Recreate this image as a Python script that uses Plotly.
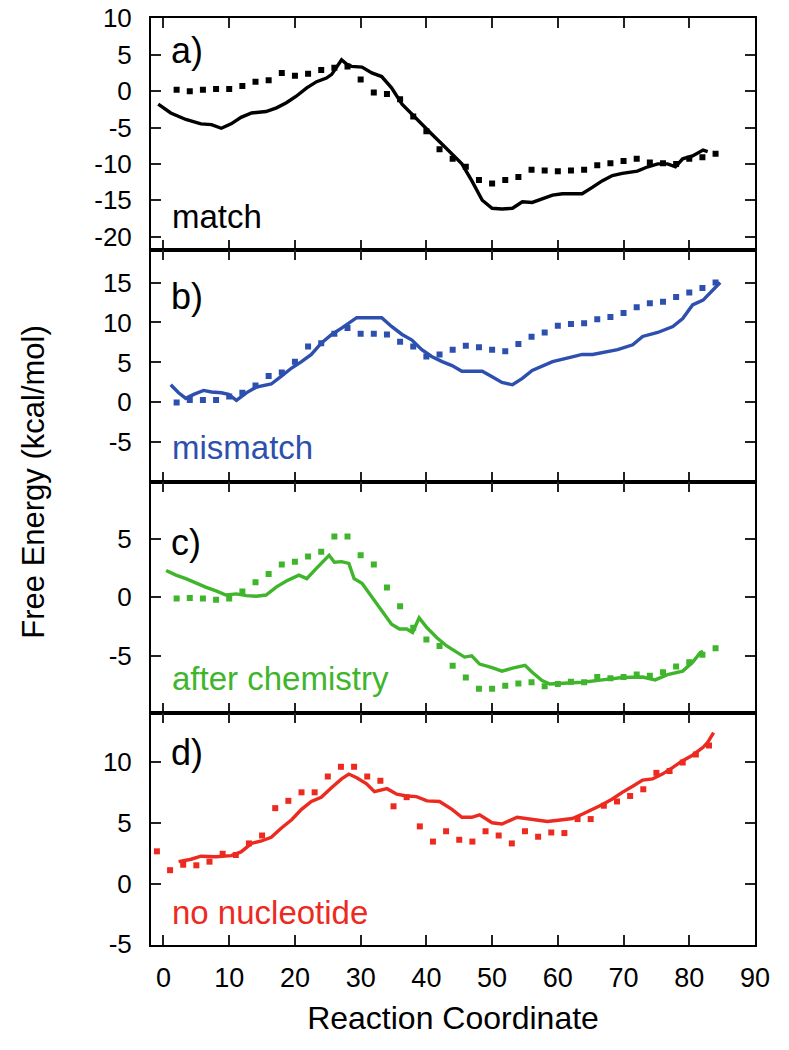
import plotly.graph_objects as go
from plotly.subplots import make_subplots

# ---------------- data ----------------
# panel a: match
a_line_x = [-0.8, 1.1, 3.4, 5.7, 7.3, 8.8, 10.3, 11.8, 13.4, 15.6, 17.2, 18.7, 20.2, 21.8, 23.3, 24.8,
            25.6, 26.3, 27.1, 27.9, 28.6, 30.2, 31.7, 33.2, 34.7, 36.3, 37.8, 39.3, 40.8, 42.4, 43.9,
            45.4, 46.9, 48.5, 50.0, 51.5, 53.1, 54.6, 56.1, 57.6, 59.2, 60.7, 63.7, 65.3, 66.8, 68.3,
            69.8, 72.1, 73.7, 75.2, 76.7, 77.9, 79.0, 80.5, 82.1, 82.8]
a_line_y = [-1.8, -3.0, -3.9, -4.5, -4.6, -5.1, -4.5, -3.6, -3.0, -2.8, -2.3, -1.6, -0.7, 0.45, 1.3, 1.8,
            2.3, 3.2, 4.3, 3.7, 3.4, 3.3, 2.5, 2.0, 0.45, -1.8, -3.2, -4.5, -5.9, -7.3, -8.6,
            -10.0, -12.3, -15.0, -16.1, -16.2, -16.1, -15.2, -15.3, -14.8, -14.3, -14.1, -14.1, -13.2, -12.3, -11.6,
            -11.3, -11.0, -10.4, -10.0, -10.0, -10.4, -9.3, -8.9, -8.1, -8.3]
a_dot_x = [2, 4, 6, 8, 10, 12, 14, 16, 18, 20, 22, 24, 26, 28, 30, 32, 34, 36, 38, 40, 42, 44, 46, 48,
           50, 52, 54, 56, 58, 60, 62, 64, 66, 68, 70, 72, 74, 76, 78, 80, 82, 84]
a_dot_y = [0.2, 0.0, 0.2, 0.3, 0.3, 0.7, 1.3, 1.5, 2.5, 2.1, 2.4, 2.9, 3.2, 3.4, 1.6, -0.2, -0.4, -1.1,
           -3.5, -5.5, -8.0, -9.3, -10.4, -12.2, -12.7, -12.2, -11.8, -10.8, -10.9, -11.0, -10.9, -10.8,
           -10.2, -9.9, -9.6, -9.3, -9.8, -9.9, -10.0, -9.3, -9.1, -8.6]

# panel b: mismatch
b_line_x = [1.1, 2.3, 3.4, 4.6, 6.1, 7.3, 8.8, 9.9, 11.1, 12.6, 14.1, 16.4, 17.9, 19.5, 21.0, 22.5, 24.0,
            25.6, 27.1, 28.6, 29.4, 33.2, 34.7, 36.3, 37.8, 39.3, 40.8, 42.4, 43.9, 45.4, 48.5, 50.0,
            51.5, 53.1, 54.6, 56.1, 57.6, 59.2, 62.2, 63.7, 65.3, 66.8, 69.1, 71.4, 72.9, 75.2, 77.5,
            79.0, 80.5, 82.1, 83.6, 84.7]
b_line_y = [2.2, 1.2, 0.5, 1.0, 1.5, 1.3, 1.2, 1.0, 0.25, 1.2, 1.9, 2.3, 3.25, 4.3, 5.1, 6.0, 7.4,
            8.5, 9.3, 10.1, 10.6, 10.6, 9.5, 8.5, 7.8, 6.6, 5.75, 5.1, 4.6, 3.9, 3.9, 3.2,
            2.5, 2.2, 3.0, 4.0, 4.5, 5.1, 5.7, 6.0, 6.0, 6.25, 6.6, 7.2, 8.25, 8.75, 9.5,
            10.5, 12.2, 12.8, 14.1, 15.0]
b_dot_x = [2, 4, 6, 8, 10, 12, 14, 16, 18, 20, 22, 24, 26, 28, 30, 32, 34, 36, 38, 40, 42, 44, 46, 48,
           50, 52, 54, 56, 58, 60, 62, 64, 66, 68, 70, 72, 74, 76, 78, 80, 82, 84]
b_dot_y = [0.0, 0.3, 0.3, 0.3, 0.75, 1.2, 2.1, 3.3, 3.75, 5.1, 7.0, 7.4, 8.6, 9.3, 8.6, 8.6, 8.5, 7.6,
           7.0, 5.75, 6.0, 6.6, 7.1, 6.9, 6.6, 6.4, 7.3, 8.2, 8.75, 9.6, 9.8, 9.9, 10.4, 10.7, 11.2,
           11.9, 12.4, 12.6, 13.2, 13.75, 14.3, 15.0]

# panel c: after chemistry
c_line_x = [0.4, 1.9, 3.4, 5.0, 6.5, 8.0, 9.5, 11.1, 12.6, 14.1, 15.6, 17.2, 18.7, 20.6, 21.8, 23.3,
            24.4, 25.2, 26.0, 27.1, 28.2, 29.0, 30.2, 31.7, 33.2, 34.7, 35.9, 37.0, 37.9, 38.9, 40.1,
            41.6, 43.1, 44.7, 45.8, 46.9, 48.1, 50.0, 51.5, 53.1, 55.0, 56.1, 57.6, 58.8, 60.7, 63.7,
            66.8, 69.8, 72.9, 74.8, 76.7, 79.0, 80.5, 81.7, 82.1]
c_line_y = [2.3, 1.9, 1.6, 1.2, 0.85, 0.55, 0.2, 0.3, 0.15, 0.1, 0.2, 0.9, 1.4, 1.9, 1.6, 2.5,
            3.1, 3.6, 3.0, 3.05, 2.9, 1.6, 1.2, 0.0, -1.2, -2.3, -2.7, -2.7, -3.0, -1.75, -2.6,
            -3.45, -4.15, -4.7, -5.1, -5.0, -5.7, -6.0, -6.3, -6.05, -5.8, -6.4, -7.1, -7.4, -7.35, -7.25,
            -7.05, -6.85, -6.8, -7.05, -6.6, -6.3, -5.55, -4.7, -4.6]
c_dot_x = [2, 4, 6, 8, 10, 12, 14, 16, 18, 20, 22, 24, 26, 28, 30, 32, 34, 36, 38, 40, 42, 44, 46, 48,
           50, 52, 54, 56, 58, 60, 62, 64, 66, 68, 70, 72, 74, 76, 78, 80, 82, 84]
c_dot_y = [-0.1, -0.05, -0.1, -0.2, -0.1, 0.5, 1.3, 2.0, 2.8, 3.05, 3.5, 3.9, 5.2, 5.2, 3.6, 2.8, 0.85,
           -0.75, -2.6, -3.6, -4.15, -5.85, -6.85, -7.8, -7.8, -7.55, -7.35, -7.25, -7.6, -7.4, -7.2,
           -7.25, -6.8, -6.9, -6.8, -6.6, -6.7, -6.4, -5.9, -5.55, -4.9, -4.35]

# panel d: no nucleotide
d_line_x = [2.3, 4.2, 5.7, 8.0, 10.3, 11.8, 13.4, 14.9, 16.4, 17.9, 19.5, 21.0, 22.5, 24.0, 25.6, 27.1,
            28.2, 29.4, 30.9, 32.1, 34.0, 35.5, 37.0, 38.5, 40.1, 42.0, 43.9, 45.4, 46.9, 48.1, 50.0,
            51.5, 53.8, 56.1, 58.4, 60.7, 62.2, 63.7, 65.3, 66.8, 68.3, 69.8, 71.4, 72.9, 74.4, 75.9,
            77.5, 79.0, 80.5, 82.1, 82.8, 83.7]
d_line_y = [1.8, 2.0, 2.25, 2.2, 2.3, 2.6, 3.3, 3.5, 3.8, 4.55, 5.25, 6.1, 6.75, 7.1, 7.9, 8.6,
            9.0, 8.7, 8.2, 7.55, 7.8, 7.35, 7.2, 7.15, 6.8, 6.75, 6.1, 5.45, 5.45, 5.65, 5.0,
            4.9, 5.45, 5.3, 5.1, 5.25, 5.35, 5.7, 6.1, 6.5, 6.95, 7.5, 8.0, 8.5, 8.6, 9.0,
            9.55, 10.1, 10.55, 11.2, 11.6, 12.4]
d_dot_x = [-1, 1, 3, 5, 7, 9, 11, 13, 15, 17, 19, 21, 23, 25, 27, 29, 31, 33, 35, 37, 39, 41, 43, 45,
           47, 49, 51, 53, 55, 57, 59, 61, 63, 65, 67, 69, 71, 73, 75, 77, 79, 81, 83]
d_dot_y = [2.65, 1.1, 1.55, 1.5, 1.8, 2.45, 2.35, 3.3, 3.95, 6.2, 6.8, 7.5, 7.5, 8.8, 9.6, 9.6, 8.8,
           8.45, 6.35, 7.1, 4.7, 3.45, 4.3, 3.6, 3.45, 4.3, 3.95, 3.3, 4.3, 3.85, 4.2, 4.15, 5.3, 5.3,
           6.4, 6.75, 7.2, 7.75, 9.1, 9.25, 9.95, 10.6, 11.35]

panel_names = ["match", "mismatch", "after chemistry", "no nucleotide"]
panel_tags = ["a)", "b)", "c)", "d)"]
x_ticks = [0, 10, 20, 30, 40, 50, 60, 70, 80, 90]
y_ticks = [[-20, -15, -10, -5, 0, 5, 10], [-5, 0, 5, 10, 15], [-5, 0, 5], [-5, 0, 5, 10]]

# ---------------- styling ----------------
colors = ["#000000", "#2d4fae", "#3fb52c", "#ec2a1f"]
y_ranges = [[-21.8, 10.05], [-9.9, 19.1], [-9.9, 9.9], [-5.05, 14]]
tag_pos = [0.86, 0.80, 0.737, 0.83]
name_pos = [0.145, 0.148, 0.15, 0.14]
FONT = "Liberation Sans, Arial, Helvetica, sans-serif"

series = [
    (a_line_x, a_line_y, a_dot_x, a_dot_y),
    (b_line_x, b_line_y, b_dot_x, b_dot_y),
    (c_line_x, c_line_y, c_dot_x, c_dot_y),
    (d_line_x, d_line_y, d_dot_x, d_dot_y),
]

fig = make_subplots(rows=4, cols=1, shared_xaxes=True, vertical_spacing=0)

for i, (lx, ly, dx, dy) in enumerate(series):
    r = i + 1
    fig.add_trace(go.Scatter(x=lx, y=ly, mode="lines",
                             line=dict(color=colors[i], width=3.4),
                             showlegend=False, hoverinfo="skip"), row=r, col=1)
    fig.add_trace(go.Scatter(x=dx, y=dy, mode="markers",
                             marker=dict(color=colors[i], size=6, symbol="square"),
                             showlegend=False, hoverinfo="skip"), row=r, col=1)
    fig.update_yaxes(range=y_ranges[i], tickvals=y_ticks[i],
                     ticktext=[str(v) for v in y_ticks[i]], row=r, col=1)
    xd = "x domain" if r == 1 else f"x{r} domain"
    yd = "y domain" if r == 1 else f"y{r} domain"
    fig.add_annotation(text=panel_tags[i], xref=xd, yref=yd, x=0.03, y=tag_pos[i],
                       xanchor="left", yanchor="middle", showarrow=False,
                       font=dict(family=FONT, size=36, color="#000000"))
    fig.add_annotation(text=panel_names[i], xref=xd, yref=yd, x=0.032, y=name_pos[i],
                       xanchor="left", yanchor="middle", showarrow=False,
                       font=dict(family=FONT, size=33, color=colors[i]))

fig.update_xaxes(range=[-1.9, 90], tickvals=x_ticks, ticktext=[str(v) for v in x_ticks],
                 showline=True, mirror="ticks", automargin=False, ticklabeloverflow="allow",
                 linecolor="#000000", linewidth=2, ticks="inside", ticklen=10, tickwidth=2,
                 tickcolor="#222222", showgrid=False, zeroline=False,
                 tickfont=dict(family=FONT, size=27, color="#000000"))
fig.update_xaxes(ticklabelstandoff=8, row=4, col=1)
fig.update_yaxes(showline=True, mirror="ticks", automargin=False, ticklabeloverflow="allow",
                 linecolor="#000000", linewidth=2,
                 ticks="inside", ticklen=10, tickwidth=2, tickcolor="#222222",
                 showgrid=False, zeroline=False, ticklabelstandoff=12,
                 tickfont=dict(family=FONT, size=26, color="#000000"))

fig.update_xaxes(title=dict(text="Reaction Coordinate", standoff=14,
                            font=dict(family=FONT, size=32, color="#000000")), row=4, col=1)

fig.add_annotation(text="Free Energy (kcal/mol)", xref="paper", yref="paper",
                   x=-0.195, y=0.5, textangle=-90, showarrow=False,
                   xanchor="center", yanchor="middle",
                   font=dict(family=FONT, size=31, color="#000000"))

fig.update_layout(width=789, height=1050,
                  margin=dict(l=151, r=34, t=18, b=105, autoexpand=False),
                  paper_bgcolor="white", plot_bgcolor="white")

fig.write_html("out.html", config={"displayModeBar": False},
               post_script="document.body.style.margin='0';document.body.style.overflow='hidden';")
